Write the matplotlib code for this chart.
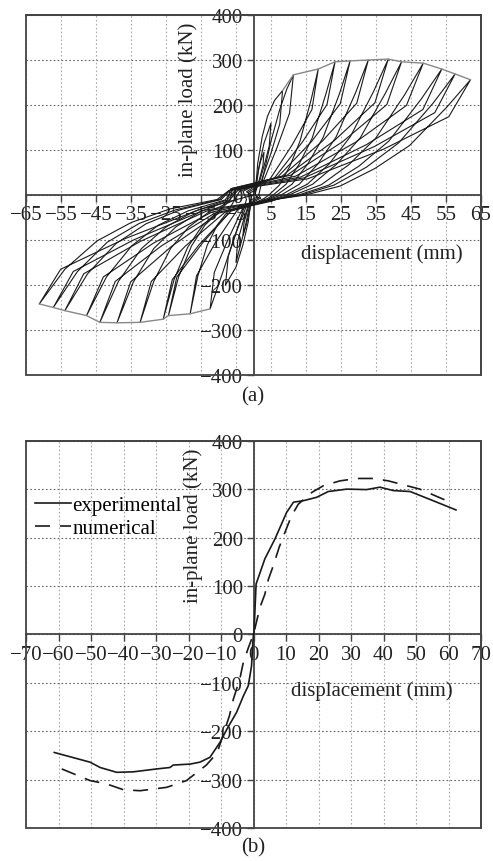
import matplotlib.pyplot as plt
from matplotlib.patches import Rectangle

plt.rcParams['font.family'] = ['Liberation Serif', 'DejaVu Serif']
plt.rcParams['axes.unicode_minus'] = True

# (a) cyclic test: one displacement/load path per cycle
loop_disp = [
    [0, 1.0, 2.0, 3.0, 2.7, 1.8, 0.8, -1.0, -1.0, -2.0, -3.0, -2.7, -1.8, -0.8, 1.0],
    [1.0, 0.5, 1.5, 3.0, 5.0, 4.5, 3.0, 1.3, -1.5, -1.0, -2.5, -4.0, -5.0, -4.5, -3.0, -1.3, 1.5],
    [1.5, 0.5, 1.2, 2.5, 4.0, 6.0, 8.3, 7.5, 5.0, 2.1, -2.0, -0.5, -1.5, -3.0, -5.0, -8.0, -7.2, -4.8, -2.0, 2.0],
    [2.0, 1.5, 3.0, 5.0, 7.5, 9.5, 11.4, 10.3, 6.8, 2.9, -3.0, -2.0, -4.0, -7.0, -10.0, -12.4, -11.2, -7.4, -3.1, 3.0],
    [3.0, 4.4, 7.4, 10.4, 13.3, 16.5, 18.5, 16.7, 11.1, 4.6, -4.0, -7.1, -10.3, -13.2, -15.9, -18.1, -16.3, -10.9, -4.5, 4.0],
    [4.0, 5.6, 9.3, 13.0, 16.8, 20.7, 23.3, 21.0, 14.0, 5.8, -4.5, -9.5, -13.9, -17.7, -21.4, -24.3, -21.9, -14.6, -6.1, 3.5],
    [3.5, 6.6, 11.0, 15.5, 19.9, 24.6, 27.6, 24.8, 16.6, 6.9, -5.0, -10.1, -14.7, -18.8, -22.7, -25.8, -23.2, -15.5, -6.5, 3.0],
    [3.0, 7.9, 13.1, 18.4, 23.6, 29.2, 32.8, 29.5, 19.7, 8.2, -5.5, -5.5, -12.6, -18.5, -23.7, -28.5, -32.4, -29.2, -19.4, -8.1, 4.5],
    [4.5, 9.2, 15.4, 21.6, 27.7, 34.3, 38.5, 34.7, 23.1, 9.6, -6.0, -6.6, -15.2, -22.2, -28.5, -34.3, -39.0, -35.1, -23.4, -9.8, 5.0],
    [5.0, 10.2, 16.9, 23.7, 30.5, 37.6, 42.3, 38.1, 25.4, 10.6, -6.5, -7.5, -17.1, -25.0, -32.0, -38.6, -43.9, -39.5, -26.3, -11.0, 5.5],
    [5.5, 11.6, 19.4, 27.2, 34.9, 43.2, 48.5, 43.7, 29.1, 12.1, -6.0, -8.1, -18.6, -27.2, -34.8, -42.0, -47.7, -42.9, -28.6, -11.9, 5.0],
    [5.0, 12.9, 21.5, 30.1, 38.7, 47.9, 53.8, 48.4, 32.3, 13.5, -6.5, -9.2, -21.0, -30.7, -39.3, -47.4, -53.9, -48.5, -32.3, -13.5, 6.0],
    [6.0, 13.8, 23.0, 32.3, 41.5, 51.3, 57.6, 51.8, 34.6, 14.4, -7.0, -9.7, -22.3, -32.6, -41.8, -50.3, -57.2, -51.5, -34.3, -14.3, 6.0],
    [6.0, 14.9, 24.8, 34.7, 44.6, 55.2, 62.0, 55.8, 37.2, 15.5, -7.0, -10.4, -23.9, -34.9, -44.7, -53.9, -61.2, -55.1, -36.7, -15.3, 0.0],
]
loop_load = [
    [0, 40, 75, 95, 65, 38, 11, 5, -30, -65, -90, -61, -36, -11, -5],
    [-5, 0, 60, 115, 160, 109, 64, 19, 6, -20, -75, -120, -150, -102, -60, -18, -6],
    [-6, 0, 70, 130, 175, 210, 232, 158, 93, 28, 7, 0, -60, -110, -160, -200, -136, -80, -24, -7],
    [-7, 0, 50, 120, 190, 235, 267, 182, 107, 32, 8, -10, -60, -130, -200, -253, -172, -101, -30, -8],
    [-8, 0, 22, 64, 120, 213, 280, 190, 112, 34, 8, -34, -66, -111, -180, -264, -180, -106, -32, -8],
    [-8, 0, 24, 68, 127, 225, 296, 201, 118, 36, 10, -35, -67, -113, -182, -268, -182, -107, -32, -12],
    [-12, 0, 24, 69, 128, 226, 298, 203, 119, 40, 12, -36, -69, -116, -188, -276, -188, -110, -36, -14],
    [-14, 0, 24, 69, 129, 228, 300, 204, 120, 42, 14, -11, -37, -71, -119, -192, -283, -192, -113, -38, -12],
    [-12, 0, 24, 69, 130, 230, 302, 205, 121, 44, 15, -11, -37, -71, -119, -193, -284, -193, -114, -40, -14],
    [-14, 0, 24, 68, 127, 225, 296, 201, 118, 44, 14, -11, -37, -71, -119, -192, -283, -192, -113, -40, -12],
    [-12, 0, 23, 67, 126, 223, 293, 199, 117, 42, 12, -11, -35, -67, -113, -182, -268, -182, -107, -38, -10],
    [-10, 0, 22, 64, 120, 213, 280, 190, 112, 40, 12, -10, -33, -64, -108, -175, -257, -175, -103, -36, -10],
    [-10, 0, 22, 62, 116, 204, 269, 183, 108, 38, 10, -10, -33, -63, -105, -170, -250, -170, -100, -34, -10],
    [-10, 0, 20, 59, 110, 195, 256, 174, 102, 36, 10, -10, -31, -61, -102, -165, -242, -165, -97, -32, 0],
]

# skeleton curves through the cycle peaks
env_pos_disp = [8.3, 11.4, 18.5, 23.3, 27.6, 32.8, 38.5, 42.3, 48.5, 53.8, 57.6, 62.0]
env_pos_load = [232, 267, 280, 296, 298, 300, 302, 296, 293, 280, 269, 256]
env_neg_disp = [-12.4, -18.1, -24.3, -25.8, -32.4, -39.0, -43.9, -47.7, -53.9, -57.2, -61.2]
env_neg_load = [-253, -264, -268, -276, -283, -284, -283, -268, -257, -250, -242]

# (b) monotonic envelopes
exp_disp = [-61.3, -50.3, -47.2, -42.1, -37.0, -29.8, -25.7, -24.7, -19.5, -16.5, -13.4, -10.3,
            -8.2, -5.2, -3.1, -1.6, -0.6, -0.2, 0.0, 0.15, 0.8, 3.5, 6.6, 10.2, 12.3, 15.3,
            19.4, 23.0, 28.7, 34.8, 38.9, 43.0, 48.2, 55.3, 62.3]
exp_load = [-244, -264, -275, -285, -284, -278, -275, -270, -268, -264, -254, -223,
            -196, -161, -127, -106, -65, -17, 0, 4, 104, 156, 197, 252, 273, 276,
            283, 295, 300, 299, 304, 297, 295, 276, 257]
num_disp = [-59.0, -50.3, -45.2, -40.0, -34.9, -26.7, -20.6, -17.0, -14.5, -12.4, -10.8, -8.8,
            -7.4, -6.2, -4.2, -3.2, -1.6, 0.0, 2.0, 3.5, 4.6, 6.1, 7.9, 9.7, 11.7, 13.8,
            17.9, 21.5, 26.6, 31.8, 36.9, 41.5, 46.6, 51.2, 60.5]
num_load = [-278, -302, -309, -321, -323, -316, -302, -283, -270, -254, -237, -196,
            -168, -134, -92, -60, -28, 0, 56, 83, 114, 142, 180, 211, 245, 269,
            293, 307, 317, 322, 322, 317, 308, 300, 273]

x_ticks_a = list(range(-65, 66, 10))
x_ticks_b = list(range(-70, 71, 10))
y_ticks = list(range(-400, 401, 100))

fig = plt.figure(figsize=(4.93, 8.62), dpi=100)
ax_a = fig.add_axes([26 / 493, 1 - 376 / 862, 455 / 493, 360 / 862])
ax_b = fig.add_axes([26 / 493, 1 - 829 / 862, 455 / 493, 387.3 / 862])

edge = '#444444'
ink = '#1a1a1a'
text_col = '#222222'


def style_axes(ax, xticks):
    ax.set_xlim(xticks[0], xticks[-1])
    ax.set_ylim(-400, 400)
    ax.set_xticks(xticks)
    ax.set_yticks(y_ticks)
    for side in ['left', 'bottom']:
        ax.spines[side].set_position(('data', 0))
    for side in ax.spines:
        ax.spines[side].set_color(edge)
        ax.spines[side].set_linewidth(1.3)
    ax.add_patch(Rectangle((0, 0), 1, 1, transform=ax.transAxes, fill=False,
                           ec=edge, lw=1.3, clip_on=False, zorder=4))
    ax.tick_params(direction='out', length=5, width=1, color=edge, labelsize=15,
                   labelcolor=text_col, pad=2.5)
    ax.grid(axis='x', ls=(0, (1.5, 2)), color='#aaaaaa', lw=0.8)
    ax.grid(axis='y', ls=(0, (1.5, 2)), color='#666666', lw=0.8)


style_axes(ax_a, x_ticks_a)
for d, f in zip(loop_disp, loop_load):
    ax_a.plot(d, f, color=ink, lw=0.8, zorder=3)
ax_a.plot(env_pos_disp, env_pos_load, color='#888888', lw=1.0, zorder=3)
ax_a.plot(env_neg_disp, env_neg_load, color='#888888', lw=1.0, zorder=3)
ax_a.set_ylabel('in-plane load (kN)', fontsize=15, color=text_col, va='center', ha='center')
ax_a.yaxis.set_label_coords(0.357, 0.767)
ax_a.set_xlabel('displacement (mm)', fontsize=15, color=text_col, va='center', ha='center')
ax_a.xaxis.set_label_coords(0.781, 0.339)

style_axes(ax_b, x_ticks_b)
ax_b.plot(exp_disp, exp_load, color=ink, lw=1.2, zorder=3, label='experimental')
ax_b.plot(num_disp, num_load, color=ink, lw=1.2, ls=(0, (9, 6)), zorder=3, label='numerical')
ax_b.set_ylabel('in-plane load (kN)', fontsize=15, color=text_col, va='center', ha='center')
ax_b.yaxis.set_label_coords(0.368, 0.784)
ax_b.set_xlabel('displacement (mm)', fontsize=15, color=text_col, va='center', ha='center')
ax_b.xaxis.set_label_coords(0.760, 0.357)
ax_b.legend(frameon=False, loc='center left', bbox_to_anchor=(0.02, 0.803), fontsize=15,
            handlelength=1.7, handletextpad=0.1, borderpad=0, borderaxespad=0,
            labelspacing=0.15)

fig.text(0.513, 1 - 397 / 862, '(a)', ha='center', va='center', fontsize=15, color=text_col)
fig.text(0.513, 1 - 848 / 862, '(b)', ha='center', va='center', fontsize=15, color=text_col)

fig.savefig('out.png', dpi=100)
